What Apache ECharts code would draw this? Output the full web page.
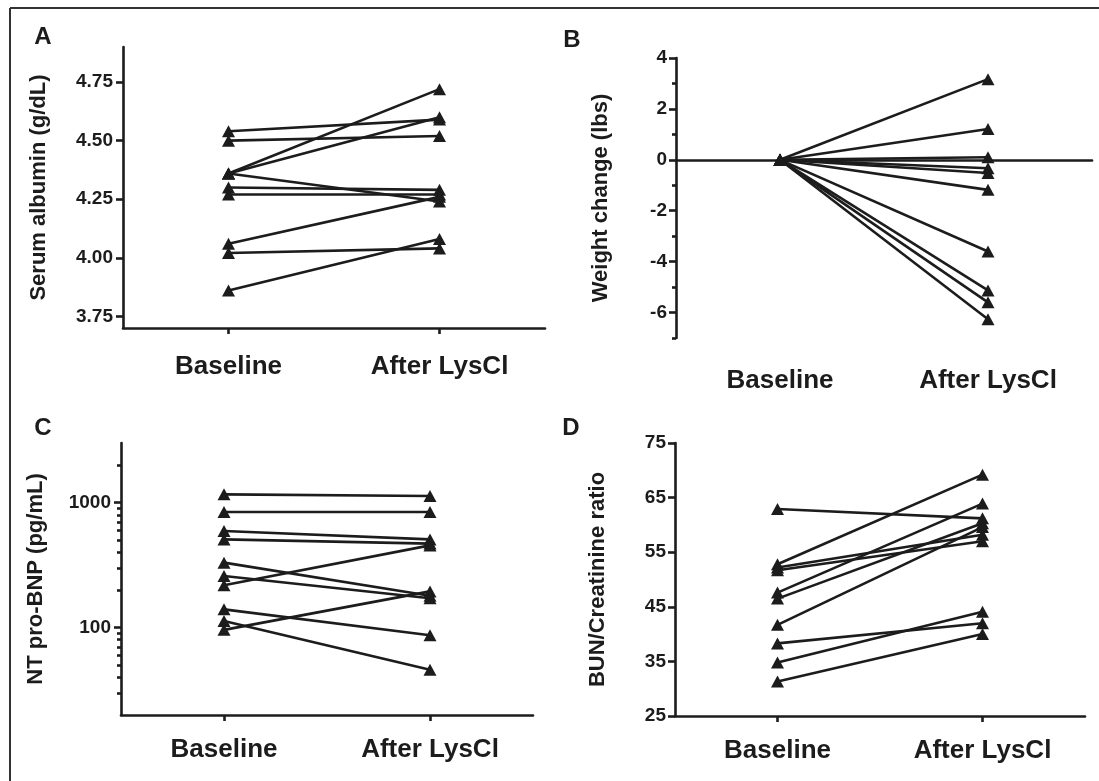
<!DOCTYPE html>
<html>
<head>
<meta charset="utf-8">
<script src="https://cdn.jsdelivr.net/npm/echarts@6/dist/echarts.min.js"></script>
<style>
  html, body { margin: 0; padding: 0; background: #ffffff; }
  #chart { width: 1099px; height: 781px; }
</style>
</head>
<body>
<div id="chart"></div>
<script>
// Time points shared by all four panels
const categories = ['Baseline', 'After LysCl'];

// A: serum albumin (g/dL), one pair of values per patient
const albuminBaseline = [4.54, 4.50, 4.36, 4.36, 4.36, 4.30, 4.27, 4.06, 4.02, 3.86];
const albuminAfter    = [4.59, 4.52, 4.72, 4.60, 4.24, 4.29, 4.27, 4.26, 4.04, 4.08];
const albuminTicks    = [3.75, 4.00, 4.25, 4.50, 4.75];

// B: weight change (lbs) relative to baseline
const weightBaseline   = [0, 0, 0, 0, 0, 0, 0, 0, 0, 0];
const weightAfter      = [3.17, 1.21, 0.10, -0.33, -0.52, -1.18, -3.60, -5.13, -5.60, -6.26];
const weightTicks      = [-6, -4, -2, 0, 2, 4];
const weightMinorTicks = [-7, -5, -3, -1, 1, 3];

// C: NT pro-BNP (pg/mL), log scale
const bnpBaseline   = [1165, 841, 593, 508, 331, 259, 218, 140, 113, 96];
const bnpAfter      = [1130, 841, 508, 470, 180, 172, 455, 87, 46, 195];
const bnpTicks      = [100, 1000];
const bnpMinorTicks = [30, 40, 50, 60, 70, 80, 90, 200, 300, 400, 500, 600, 700, 800, 900, 2000];

// D: BUN/creatinine ratio
const bunBaseline = [62.9, 52.8, 52.2, 51.7, 47.6, 46.5, 41.7, 38.3, 34.8, 31.3];
const bunAfter    = [61.2, 69.2, 58.2, 57.0, 63.9, 60.3, 59.6, 42.0, 44.1, 40.0];
const bunTicks    = [25, 35, 45, 55, 65, 75];

const INK = '#1c1c1c';
const FONT = '"Liberation Sans", Arial, Helvetica, sans-serif';
const LINE_W = 2.6;

function pairSeries(before, after, xAxisIndex, yAxisIndex) {
  return before.map((b, i) => ({
    type: 'line',
    xAxisIndex, yAxisIndex,
    data: [b, after[i]],
    symbol: 'triangle',
    symbolSize: [13, 12],
    showSymbol: true,
    silent: true,
    animation: false,
    lineStyle: { color: INK, width: LINE_W },
    itemStyle: { color: INK, borderWidth: 0 }
  }));
}

const axisLineStyle = { show: true, onZero: false, lineStyle: { color: INK, width: LINE_W } };
const catLabel = (margin) => ({
  margin, color: INK, fontFamily: FONT, fontWeight: 'bold', fontSize: 26
});
const valLabel = (values, margin, fmt) => ({
  customValues: values, margin, color: INK, fontFamily: FONT,
  fontWeight: 'bold', fontSize: 19, formatter: fmt
});
const ticks = (values, length) => ({
  show: true, customValues: values, length, inside: false,
  lineStyle: { color: INK, width: LINE_W }
});
const nameStyle = { color: INK, fontFamily: FONT, fontWeight: 'bold', fontSize: 22 };

function categoryAxis(gridIndex, margin) {
  return {
    type: 'category', gridIndex, data: categories, position: 'bottom',
    boundaryGap: true,
    axisLine: axisLineStyle,
    axisTick: { show: true, alignWithLabel: true, length: 6, lineStyle: { color: INK, width: LINE_W } },
    axisLabel: catLabel(margin),
    splitLine: { show: false }
  };
}

const option = {
  backgroundColor: '#ffffff',
  animation: false,
  grid: [
    { left: 123, top: 47,  width: 422, height: 281 },
    { left: 676, top: 58,  width: 416, height: 280 },
    { left: 121, top: 443, width: 412, height: 272 },
    { left: 675, top: 443, width: 410, height: 273 }
  ],
  xAxis: [
    categoryAxis(0, 26),
    // B: zero line carried by the category axis itself
    {
      type: 'category', gridIndex: 1, data: categories, position: 'bottom',
      boundaryGap: true,
      axisLine: { show: true, onZero: true, lineStyle: { color: INK, width: LINE_W } },
      axisTick: { show: false }, axisLabel: { show: false }, splitLine: { show: false }
    },
    // B: bottom labels without a line
    {
      type: 'category', gridIndex: 1, data: categories, position: 'bottom',
      boundaryGap: true,
      axisLine: { show: false, onZero: false },
      axisTick: { show: false },
      axisLabel: catLabel(30),
      splitLine: { show: false }
    },
    categoryAxis(2, 22),
    categoryAxis(3, 22)
  ],
  yAxis: [
    {
      type: 'value', gridIndex: 0, position: 'left', min: 3.70, max: 4.90,
      axisLine: axisLineStyle,
      axisTick: ticks(albuminTicks, 7),
      axisLabel: valLabel(albuminTicks, 10, v => Number(v).toFixed(2)),
      splitLine: { show: false },
      name: 'Serum albumin (g/dL)', nameLocation: 'middle', nameGap: 73, nameTextStyle: nameStyle
    },
    {
      type: 'value', gridIndex: 1, position: 'left', min: -7, max: 4,
      axisLine: axisLineStyle,
      axisTick: ticks(weightTicks, 7),
      axisLabel: valLabel(weightTicks, 9, v => String(v)),
      splitLine: { show: false },
      name: 'Weight change (lbs)', nameLocation: 'middle', nameGap: 64, nameTextStyle: nameStyle
    },
    {
      type: 'value', gridIndex: 1, position: 'left', offset: 0, min: -7, max: 4,
      axisLine: { show: false, onZero: false },
      axisTick: ticks(weightMinorTicks, 4),
      axisLabel: { show: false },
      splitLine: { show: false }
    },
    {
      type: 'log', logBase: 10, gridIndex: 2, position: 'left', min: 20, max: 3000,
      axisLine: axisLineStyle,
      axisTick: ticks(bnpTicks, 7),
      axisLabel: valLabel(bnpTicks, 10, v => String(Math.round(v))),
      splitLine: { show: false },
      name: 'NT pro-BNP (pg/mL)', nameLocation: 'middle', nameGap: 74, nameTextStyle: nameStyle
    },
    {
      type: 'log', logBase: 10, gridIndex: 2, position: 'left', offset: 0, min: 20, max: 3000,
      axisLine: { show: false, onZero: false },
      axisTick: ticks(bnpMinorTicks, 4),
      axisLabel: { show: false },
      splitLine: { show: false }
    },
    {
      type: 'value', gridIndex: 3, position: 'left', min: 25, max: 75,
      axisLine: axisLineStyle,
      axisTick: ticks(bunTicks, 7),
      axisLabel: valLabel(bunTicks, 9, v => String(v)),
      splitLine: { show: false },
      name: 'BUN/Creatinine ratio', nameLocation: 'middle', nameGap: 66, nameTextStyle: nameStyle
    }
  ],
  series: [].concat(
    pairSeries(albuminBaseline, albuminAfter, 0, 0),
    pairSeries(weightBaseline, weightAfter, 1, 1),
    pairSeries(bnpBaseline, bnpAfter, 3, 3),
    pairSeries(bunBaseline, bunAfter, 4, 5)
  ),
  graphic: [
    // figure frame (top and left edges)
    { type: 'line', shape: { x1: 10, y1: 8, x2: 1099, y2: 8 }, style: { stroke: '#333', lineWidth: 2 } },
    { type: 'line', shape: { x1: 10, y1: 8, x2: 10, y2: 781 }, style: { stroke: '#333', lineWidth: 2 } },
    // panel letters
    { type: 'text', x: 43, y: 37, style: { text: 'A', fill: INK, font: 'bold 24px ' + FONT, textAlign: 'center', textVerticalAlign: 'middle' } },
    { type: 'text', x: 572, y: 40, style: { text: 'B', fill: INK, font: 'bold 24px ' + FONT, textAlign: 'center', textVerticalAlign: 'middle' } },
    { type: 'text', x: 43, y: 428, style: { text: 'C', fill: INK, font: 'bold 24px ' + FONT, textAlign: 'center', textVerticalAlign: 'middle' } },
    { type: 'text', x: 571, y: 428, style: { text: 'D', fill: INK, font: 'bold 24px ' + FONT, textAlign: 'center', textVerticalAlign: 'middle' } }
  ]
};

const chart = echarts.init(document.getElementById('chart'), null, { renderer: 'canvas' });
chart.setOption(option);
</script>
</body>
</html>
